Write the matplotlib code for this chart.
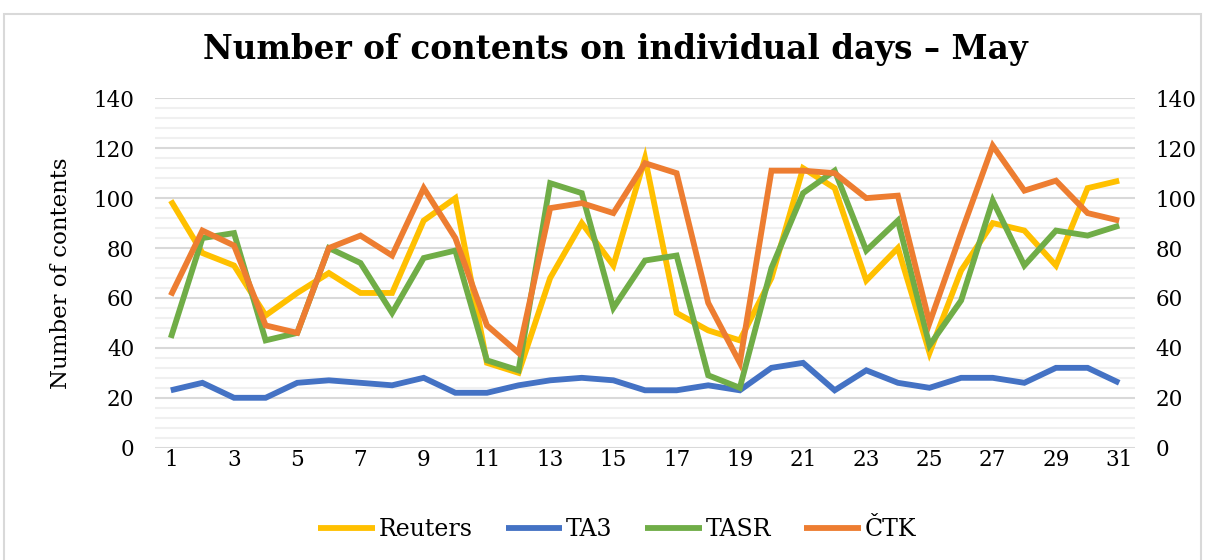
import matplotlib.pyplot as plt
from matplotlib.patches import Rectangle
from matplotlib.ticker import MultipleLocator

# daily counts
days = list(range(1, 32))
reuters = [99, 78, 73, 53, 62, 70, 62, 62, 91, 100, 34, 30, 68, 90, 73, 116,
           54, 47, 43, 68, 112, 104, 67, 80, 38, 71, 90, 87, 73, 104, 107]
ta3 = [23, 26, 20, 20, 26, 27, 26, 25, 28, 22, 22, 25, 27, 28, 27, 23,
       23, 25, 23, 32, 34, 23, 31, 26, 24, 28, 28, 26, 32, 32, 26]
tasr = [44, 84, 86, 43, 46, 80, 74, 54, 76, 79, 35, 31, 106, 102, 56, 75,
        77, 29, 24, 72, 102, 111, 79, 91, 41, 59, 99, 73, 87, 85, 89]
ctk = [61, 87, 81, 49, 46, 80, 85, 77, 104, 84, 49, 38, 96, 98, 94, 114,
       110, 58, 34, 111, 111, 110, 100, 101, 50, 86, 121, 103, 107, 94, 91]

series = [('Reuters', reuters, '#FFC000'),
          ('TA3', ta3, '#4472C4'),
          ('TASR', tasr, '#70AD47'),
          ('ČTK', ctk, '#ED7D31')]

plt.rcParams['font.family'] = ['DejaVu Serif']

W, H = 1206, 560
fig = plt.figure(figsize=(W / 100, H / 100), dpi=100)
fig.patches.append(Rectangle((4 / W, -0.05), 1197 / W, 1.05 - 14 / H,
                             transform=fig.transFigure, fill=False,
                             edgecolor='#D9D9D9', linewidth=1.5))

ax = fig.add_axes([155 / W, 1 - 447.7 / H, 980 / W, 349.4 / H])
for name, vals, col in series:
    ax.plot(days, vals, color=col, linewidth=4.2, label=name,
             solid_joinstyle='miter', solid_capstyle='butt')

ax.set_xlim(0.5, 31.5)
ax.set_ylim(0, 140)
ax.set_xticks(days[::2])
ax.yaxis.set_major_locator(MultipleLocator(20))
ax.yaxis.set_minor_locator(MultipleLocator(4))
ax.grid(axis='y', which='major', color='#D9D9D9', linewidth=1.5, zorder=0)
ax.grid(axis='y', which='minor', color='#F0F0F0', linewidth=1.5, zorder=0)
ax.set_axisbelow(True)
for s in ax.spines.values():
    s.set_visible(False)
ax.tick_params(axis='both', which='both', length=0, labelsize=15.5)
ax.tick_params(axis='y', pad=15)
ax.tick_params(axis='x', pad=1)
ax.set_ylabel('Number of contents', fontsize=16.5)
ax.yaxis.set_label_coords(-0.085, 0.5)

ax2 = ax.twinx()
ax2.set_ylim(0, 140)
ax2.yaxis.set_major_locator(MultipleLocator(20))
for s in ax2.spines.values():
    s.set_visible(False)
ax2.tick_params(axis='y', length=0, labelsize=15.5, pad=15)

fig.text(615 / W, 1 - 50 / H, 'Number of contents on individual days – May',
         ha='center', va='center', fontsize=23.5, fontweight='bold')

fig.legend(loc='center', bbox_to_anchor=(617 / W, 1 - 530 / H), ncol=4,
           frameon=False, fontsize=17, handlelength=2.4, handletextpad=0.15,
           columnspacing=1.4)

fig.savefig('out.png', dpi=100)
